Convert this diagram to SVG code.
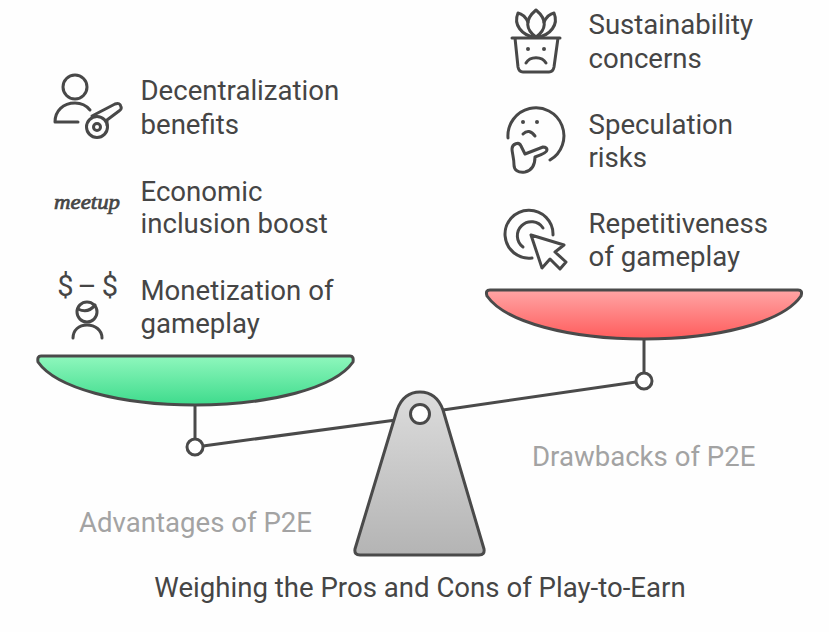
<svg xmlns="http://www.w3.org/2000/svg" width="829" height="632" viewBox="0 0 829 632">
<style>
text{font-family:Roboto,"Liberation Sans",sans-serif;font-size:27.6px;fill:#454545}
.g{fill:#a3a3a3}
.i{fill:none;stroke:#484848;stroke-width:3;stroke-linecap:round;stroke-linejoin:round}
.s{stroke:#4a4a4a;stroke-width:3;stroke-linejoin:round}
.d{fill:#484848}
.n{fill:#fff}
.sym{font-size:29px;font-weight:400;text-anchor:middle}
.logo{font-family:"Liberation Serif",serif;font-style:italic;font-size:22px;stroke:#454545;stroke-width:.7}
</style>
<defs>
<linearGradient id="gr" x1="0" y1="0" x2="0" y2="1"><stop offset="0" stop-color="#8ff7bd"/><stop offset="1" stop-color="#3edb8c"/></linearGradient>
<linearGradient id="rd" x1="0" y1="0" x2="0" y2="1"><stop offset="0" stop-color="#ffa5a5"/><stop offset="1" stop-color="#ff5c5c"/></linearGradient>
<linearGradient id="gy" x1="0" y1="0" x2="0" y2="1"><stop offset="0" stop-color="#dcdcdc"/><stop offset="1" stop-color="#b4b4b4"/></linearGradient>
</defs>
<rect width="829" height="632" fill="#fefefe"/>
<g id="connectors">
<path class="s" fill="none" d="M195 405V439M644 339V373M203 446L396 420M443 410L636 382"/>
</g>
<g id="fulcrum">
<path class="s" fill="url(#gy)" d="M397 410C401 399 409 392 420 392C431 392 439 399 443 410L484 549Q485 555 479 555H360Q354 555 355 549Z"/>
<circle class="s n" cx="420" cy="414" r="9.5"/>
</g>
<g id="left-pan">
<path class="s" fill="url(#gr)" d="M41 356H350Q354 356 353 362C335 388 270 405 195 405C120 405 56 388 38 362Q37 356 41 356Z"/>
<circle class="s n" cx="195" cy="447" r="8"/>
<text class="g" x="79" y="532">Advantages of P2E</text>
</g>
<g id="right-pan">
<path class="s" fill="url(#rd)" d="M490 290H798Q803 290 801 296C783 322 719 339 644 339C569 339 505 322 487 296Q485 290 490 290Z"/>
<circle class="s n" cx="644" cy="381" r="8"/>
<text class="g" x="532" y="466">Drawbacks of P2E</text>
</g>
<g id="decentralization">
<g class="i">
<circle cx="75" cy="87" r="12"/>
<path d="M55 122C55 111 63 103 75 103C81 103 86 105 90 110M55 122H78"/>
<circle cx="97" cy="127" r="10.500"/>
<circle cx="97" cy="127" r="3.500"/>
<path d="M92 116L115 104Q120 102 121 107Q122 109 119 111L107 120L107 125"/>
</g>
<text x="140.500" y="100">Decentralization</text>
<text x="140.500" y="133.700">benefits</text>
</g>
<g id="economic">
<text class="logo" x="54" y="209" textLength="66" lengthAdjust="spacingAndGlyphs">meetup</text>
<text x="140.500" y="200.700">Economic</text>
<text x="140.500" y="232.500">inclusion boost</text>
</g>
<g id="monetization">
<text class="sym" x="65.500" y="296">$</text>
<text class="sym" x="87" y="296">–</text>
<text class="sym" x="110" y="296">$</text>
<g class="i">
<circle cx="87" cy="312" r="10"/>
<path d="M78 309Q88 314 95 305"/>
<path d="M73 338C73 330 79 325 87 325C95 325 102 330 102 338"/>
</g>
<text x="140.500" y="300">Monetization of</text>
<text x="140.500" y="333">gameplay</text>
</g>
<g id="sustainability">
<g class="i">
<path d="M512 38H560M515 38L518 67Q519 72 523 72H549Q553 72 554 67L558 38"/>
<path d="M536 37C526 30 524 20 536 10C548 20 546 30 536 37Z"/>
<path d="M534 37C522 35 513 25 518 13C523 14 526 18 528 22"/>
<path d="M538 37C550 35 559 25 554 13C549 14 546 18 544 22"/>
<path d="M526 63C530 56 542 56 546 63"/>
</g>
<circle class="d" cx="528" cy="49" r="2"/>
<circle class="d" cx="544" cy="49" r="2"/>
<text x="588.500" y="34">Sustainability</text>
<text x="588.500" y="67.700">concerns</text>
</g>
<g id="speculation">
<g class="i">
<path d="M508 138A28 28 0 1 1 550 160"/>
<path d="M523 134Q529 128 535 136"/>
<path d="M525 154L543 147Q547 147 547 150Q547 153 535 157C535 163 534 170 525 172C518 173 514 170 514 165C514 158 512 153 512 149C512 144 519 141 521 146Z"/>
</g>
<circle class="d" cx="523" cy="122" r="2"/>
<circle class="d" cx="537" cy="122" r="2"/>
<text x="588.500" y="133.500">Speculation</text>
<text x="588.500" y="166.700">risks</text>
</g>
<g id="repetitiveness">
<g class="i">
<path d="M532 258A24 24 0 1 1 553 235"/>
<path d="M523 247A14 14 0 1 1 543 228"/>
<path d="M531 235L564 245L555 252L566 262L560 269L550 259L542 268Z"/>
</g>
<text x="588.500" y="233">Repetitiveness</text>
<text x="588.500" y="266">of gameplay</text>
</g>
<text id="title" x="420" y="597" text-anchor="middle">Weighing the Pros and Cons of Play-to-Earn</text>
</svg>
